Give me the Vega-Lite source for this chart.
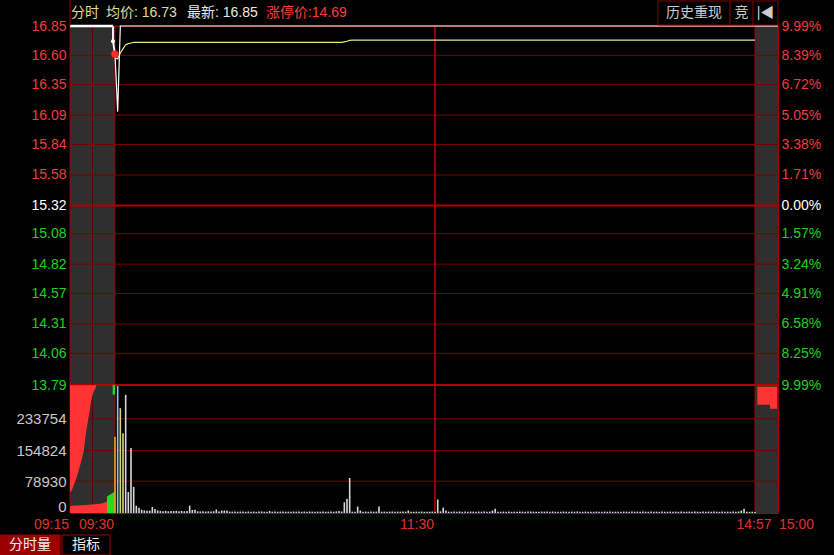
{
  "$schema": "https://vega.github.io/schema/vega-lite/v6.json",
  "width": 708,
  "height": 487,
  "autosize": {"type": "none"},
  "padding": {"left": 70, "top": 26, "right": 56, "bottom": 42},
  "background": "#000000",
  "config": {"view": {"stroke": "#a00000", "fill": "#000000"}, "font": "Liberation Sans", "scale": {"continuousPadding": 0}},
  "datasets": {
    "minutes": [
      {"t":570,"v":189000,"p":16.61,"a":16.58,"k":"a"},
      {"t":571,"v":315000,"p":16.12,"a":16.57,"k":"b"},
      {"t":572,"v":260000,"p":16.85,"a":16.62,"k":"c"},
      {"t":573,"v":198000,"p":16.85,"a":16.655,"k":"c"},
      {"t":574,"v":293000,"p":16.85,"a":16.69,"k":"d"},
      {"t":575,"v":52000,"p":16.85,"a":16.7,"k":"d"},
      {"t":576,"v":161000,"p":16.85,"a":16.705,"k":"d"},
      {"t":577,"v":64500,"p":16.85,"a":16.71,"k":"d"},
      {"t":578,"v":18100,"p":16.85,"a":16.71,"k":"d"},
      {"t":579,"v":13100,"p":16.85,"a":16.71,"k":"d"},
      {"t":580,"v":8200,"p":16.85,"a":16.71,"k":"d"},
      {"t":581,"v":6400,"p":16.85,"a":16.71,"k":"d"},
      {"t":582,"v":5700,"p":16.85,"a":16.71,"k":"d"},
      {"t":583,"v":5700,"p":16.85,"a":16.71,"k":"d"},
      {"t":584,"v":14900,"p":16.85,"a":16.71,"k":"d"},
      {"t":585,"v":9900,"p":16.85,"a":16.71,"k":"d"},
      {"t":586,"v":6400,"p":16.85,"a":16.71,"k":"d"},
      {"t":587,"v":5200,"p":16.85,"a":16.71,"k":"d"},
      {"t":588,"v":4600,"p":16.85,"a":16.71,"k":"d"},
      {"t":589,"v":5400,"p":16.85,"a":16.71,"k":"d"},
      {"t":590,"v":4300,"p":16.85,"a":16.71,"k":"d"},
      {"t":591,"v":5000,"p":16.85,"a":16.71,"k":"d"},
      {"t":592,"v":4700,"p":16.85,"a":16.71,"k":"d"},
      {"t":593,"v":5600,"p":16.85,"a":16.71,"k":"d"},
      {"t":594,"v":4400,"p":16.85,"a":16.71,"k":"d"},
      {"t":595,"v":4900,"p":16.85,"a":16.71,"k":"d"},
      {"t":596,"v":4200,"p":16.85,"a":16.71,"k":"d"},
      {"t":597,"v":5100,"p":16.85,"a":16.71,"k":"d"},
      {"t":598,"v":18100,"p":16.85,"a":16.71,"k":"d"},
      {"t":599,"v":7400,"p":16.85,"a":16.71,"k":"d"},
      {"t":600,"v":8200,"p":16.85,"a":16.71,"k":"d"},
      {"t":601,"v":4300,"p":16.85,"a":16.71,"k":"d"},
      {"t":602,"v":3900,"p":16.85,"a":16.71,"k":"d"},
      {"t":603,"v":4600,"p":16.85,"a":16.71,"k":"d"},
      {"t":604,"v":3700,"p":16.85,"a":16.71,"k":"d"},
      {"t":605,"v":4200,"p":16.85,"a":16.71,"k":"d"},
      {"t":606,"v":3600,"p":16.85,"a":16.71,"k":"d"},
      {"t":607,"v":4400,"p":16.85,"a":16.71,"k":"d"},
      {"t":608,"v":8900,"p":16.85,"a":16.71,"k":"d"},
      {"t":609,"v":3800,"p":16.85,"a":16.71,"k":"d"},
      {"t":610,"v":6200,"p":16.85,"a":16.71,"k":"d"},
      {"t":611,"v":6200,"p":16.85,"a":16.71,"k":"d"},
      {"t":612,"v":6200,"p":16.85,"a":16.71,"k":"d"},
      {"t":613,"v":3600,"p":16.85,"a":16.71,"k":"d"},
      {"t":614,"v":3400,"p":16.85,"a":16.71,"k":"d"},
      {"t":615,"v":3900,"p":16.85,"a":16.71,"k":"d"},
      {"t":616,"v":3200,"p":16.85,"a":16.71,"k":"d"},
      {"t":617,"v":3700,"p":16.85,"a":16.71,"k":"d"},
      {"t":618,"v":3500,"p":16.85,"a":16.71,"k":"d"},
      {"t":619,"v":3100,"p":16.85,"a":16.71,"k":"d"},
      {"t":620,"v":3800,"p":16.85,"a":16.71,"k":"d"},
      {"t":621,"v":3300,"p":16.85,"a":16.71,"k":"d"},
      {"t":622,"v":3600,"p":16.85,"a":16.71,"k":"d"},
      {"t":623,"v":3000,"p":16.85,"a":16.71,"k":"d"},
      {"t":624,"v":3500,"p":16.85,"a":16.71,"k":"d"},
      {"t":625,"v":3900,"p":16.85,"a":16.71,"k":"d"},
      {"t":626,"v":3200,"p":16.85,"a":16.71,"k":"d"},
      {"t":627,"v":3400,"p":16.85,"a":16.71,"k":"d"},
      {"t":628,"v":4800,"p":16.85,"a":16.71,"k":"d"},
      {"t":629,"v":3300,"p":16.85,"a":16.71,"k":"d"},
      {"t":630,"v":3600,"p":16.85,"a":16.71,"k":"d"},
      {"t":631,"v":3100,"p":16.85,"a":16.71,"k":"d"},
      {"t":632,"v":3500,"p":16.85,"a":16.71,"k":"d"},
      {"t":633,"v":3800,"p":16.85,"a":16.71,"k":"d"},
      {"t":634,"v":3200,"p":16.85,"a":16.71,"k":"d"},
      {"t":635,"v":3400,"p":16.85,"a":16.71,"k":"d"},
      {"t":636,"v":3000,"p":16.85,"a":16.71,"k":"d"},
      {"t":637,"v":3700,"p":16.85,"a":16.71,"k":"d"},
      {"t":638,"v":3300,"p":16.85,"a":16.71,"k":"d"},
      {"t":639,"v":3500,"p":16.85,"a":16.71,"k":"d"},
      {"t":640,"v":3100,"p":16.85,"a":16.71,"k":"d"},
      {"t":641,"v":3600,"p":16.85,"a":16.71,"k":"d"},
      {"t":642,"v":3200,"p":16.85,"a":16.71,"k":"d"},
      {"t":643,"v":3900,"p":16.85,"a":16.71,"k":"d"},
      {"t":644,"v":3400,"p":16.85,"a":16.71,"k":"d"},
      {"t":645,"v":3000,"p":16.85,"a":16.71,"k":"d"},
      {"t":646,"v":3500,"p":16.85,"a":16.71,"k":"d"},
      {"t":647,"v":3300,"p":16.85,"a":16.71,"k":"d"},
      {"t":648,"v":3700,"p":16.85,"a":16.71,"k":"d"},
      {"t":649,"v":3100,"p":16.85,"a":16.71,"k":"d"},
      {"t":650,"v":3400,"p":16.85,"a":16.71,"k":"d"},
      {"t":651,"v":3800,"p":16.85,"a":16.71,"k":"d"},
      {"t":652,"v":3200,"p":16.85,"a":16.71,"k":"d"},
      {"t":653,"v":4200,"p":16.85,"a":16.71,"k":"d"},
      {"t":654,"v":5200,"p":16.85,"a":16.71,"k":"d"},
      {"t":655,"v":3600,"p":16.85,"a":16.71,"k":"d"},
      {"t":656,"v":26500,"p":16.85,"a":16.715,"k":"d"},
      {"t":657,"v":35500,"p":16.85,"a":16.72,"k":"d"},
      {"t":658,"v":86800,"p":16.85,"a":16.728,"k":"d"},
      {"t":659,"v":3500,"p":16.85,"a":16.73,"k":"d"},
      {"t":660,"v":3000,"p":16.85,"a":16.73,"k":"d"},
      {"t":661,"v":15900,"p":16.85,"a":16.73,"k":"d"},
      {"t":662,"v":6200,"p":16.85,"a":16.73,"k":"d"},
      {"t":663,"v":3400,"p":16.85,"a":16.73,"k":"d"},
      {"t":664,"v":3700,"p":16.85,"a":16.73,"k":"d"},
      {"t":665,"v":3100,"p":16.85,"a":16.73,"k":"d"},
      {"t":666,"v":3500,"p":16.85,"a":16.73,"k":"d"},
      {"t":667,"v":3300,"p":16.85,"a":16.73,"k":"d"},
      {"t":668,"v":3600,"p":16.85,"a":16.73,"k":"d"},
      {"t":669,"v":15900,"p":16.85,"a":16.73,"k":"d"},
      {"t":670,"v":3200,"p":16.85,"a":16.73,"k":"d"},
      {"t":671,"v":3500,"p":16.85,"a":16.73,"k":"d"},
      {"t":672,"v":3000,"p":16.85,"a":16.73,"k":"d"},
      {"t":673,"v":3400,"p":16.85,"a":16.73,"k":"d"},
      {"t":674,"v":3800,"p":16.85,"a":16.73,"k":"d"},
      {"t":675,"v":3100,"p":16.85,"a":16.73,"k":"d"},
      {"t":676,"v":3500,"p":16.85,"a":16.73,"k":"d"},
      {"t":677,"v":3300,"p":16.85,"a":16.73,"k":"d"},
      {"t":678,"v":3600,"p":16.85,"a":16.73,"k":"d"},
      {"t":679,"v":3200,"p":16.85,"a":16.73,"k":"d"},
      {"t":680,"v":6200,"p":16.85,"a":16.73,"k":"d"},
      {"t":681,"v":3400,"p":16.85,"a":16.73,"k":"d"},
      {"t":682,"v":3100,"p":16.85,"a":16.73,"k":"d"},
      {"t":683,"v":3500,"p":16.85,"a":16.73,"k":"d"},
      {"t":684,"v":3300,"p":16.85,"a":16.73,"k":"d"},
      {"t":685,"v":3700,"p":16.85,"a":16.73,"k":"d"},
      {"t":686,"v":3000,"p":16.85,"a":16.73,"k":"d"},
      {"t":687,"v":3400,"p":16.85,"a":16.73,"k":"d"},
      {"t":688,"v":3200,"p":16.85,"a":16.73,"k":"d"},
      {"t":689,"v":3600,"p":16.85,"a":16.73,"k":"d"},
      {"t":690,"v":3300,"p":16.85,"a":16.73,"k":"d"},
      {"t":781,"v":33500,"p":16.85,"a":16.73,"k":"d"},
      {"t":782,"v":4200,"p":16.85,"a":16.73,"k":"d"},
      {"t":783,"v":13400,"p":16.85,"a":16.73,"k":"d"},
      {"t":784,"v":6200,"p":16.85,"a":16.73,"k":"d"},
      {"t":785,"v":3400,"p":16.85,"a":16.73,"k":"d"},
      {"t":786,"v":3100,"p":16.85,"a":16.73,"k":"d"},
      {"t":787,"v":3600,"p":16.85,"a":16.73,"k":"d"},
      {"t":788,"v":3300,"p":16.85,"a":16.73,"k":"d"},
      {"t":789,"v":3800,"p":16.85,"a":16.73,"k":"d"},
      {"t":790,"v":3000,"p":16.85,"a":16.73,"k":"d"},
      {"t":791,"v":3500,"p":16.85,"a":16.73,"k":"d"},
      {"t":792,"v":3200,"p":16.85,"a":16.73,"k":"d"},
      {"t":793,"v":3700,"p":16.85,"a":16.73,"k":"d"},
      {"t":794,"v":3400,"p":16.85,"a":16.73,"k":"d"},
      {"t":795,"v":3100,"p":16.85,"a":16.73,"k":"d"},
      {"t":796,"v":3600,"p":16.85,"a":16.73,"k":"d"},
      {"t":797,"v":3300,"p":16.85,"a":16.73,"k":"d"},
      {"t":798,"v":3900,"p":16.85,"a":16.73,"k":"d"},
      {"t":799,"v":3200,"p":16.85,"a":16.73,"k":"d"},
      {"t":800,"v":3500,"p":16.85,"a":16.73,"k":"d"},
      {"t":801,"v":6200,"p":16.85,"a":16.73,"k":"d"},
      {"t":802,"v":10700,"p":16.85,"a":16.73,"k":"d"},
      {"t":803,"v":3400,"p":16.85,"a":16.73,"k":"d"},
      {"t":804,"v":3100,"p":16.85,"a":16.73,"k":"d"},
      {"t":805,"v":3500,"p":16.85,"a":16.73,"k":"d"},
      {"t":806,"v":3300,"p":16.85,"a":16.73,"k":"d"},
      {"t":807,"v":3700,"p":16.85,"a":16.73,"k":"d"},
      {"t":808,"v":3000,"p":16.85,"a":16.73,"k":"d"},
      {"t":809,"v":3400,"p":16.85,"a":16.73,"k":"d"},
      {"t":810,"v":3200,"p":16.85,"a":16.73,"k":"d"},
      {"t":811,"v":3600,"p":16.85,"a":16.73,"k":"d"},
      {"t":812,"v":3300,"p":16.85,"a":16.73,"k":"d"},
      {"t":813,"v":3100,"p":16.85,"a":16.73,"k":"d"},
      {"t":814,"v":3500,"p":16.85,"a":16.73,"k":"d"},
      {"t":815,"v":3800,"p":16.85,"a":16.73,"k":"d"},
      {"t":816,"v":3200,"p":16.85,"a":16.73,"k":"d"},
      {"t":817,"v":3400,"p":16.85,"a":16.73,"k":"d"},
      {"t":818,"v":3000,"p":16.85,"a":16.73,"k":"d"},
      {"t":819,"v":3600,"p":16.85,"a":16.73,"k":"d"},
      {"t":820,"v":3300,"p":16.85,"a":16.73,"k":"d"},
      {"t":821,"v":3500,"p":16.85,"a":16.73,"k":"d"},
      {"t":822,"v":3100,"p":16.85,"a":16.73,"k":"d"},
      {"t":823,"v":3700,"p":16.85,"a":16.73,"k":"d"},
      {"t":824,"v":3200,"p":16.85,"a":16.73,"k":"d"},
      {"t":825,"v":3400,"p":16.85,"a":16.73,"k":"d"},
      {"t":826,"v":3000,"p":16.85,"a":16.73,"k":"d"},
      {"t":827,"v":3600,"p":16.85,"a":16.73,"k":"d"},
      {"t":828,"v":3300,"p":16.85,"a":16.73,"k":"d"},
      {"t":829,"v":3100,"p":16.85,"a":16.73,"k":"d"},
      {"t":830,"v":3500,"p":16.85,"a":16.73,"k":"d"},
      {"t":831,"v":3200,"p":16.85,"a":16.73,"k":"d"},
      {"t":832,"v":3800,"p":16.85,"a":16.73,"k":"d"},
      {"t":833,"v":3300,"p":16.85,"a":16.73,"k":"d"},
      {"t":834,"v":3000,"p":16.85,"a":16.73,"k":"d"},
      {"t":835,"v":3500,"p":16.85,"a":16.73,"k":"d"},
      {"t":836,"v":3200,"p":16.85,"a":16.73,"k":"d"},
      {"t":837,"v":3400,"p":16.85,"a":16.73,"k":"d"},
      {"t":838,"v":3100,"p":16.85,"a":16.73,"k":"d"},
      {"t":839,"v":3600,"p":16.85,"a":16.73,"k":"d"},
      {"t":840,"v":3300,"p":16.85,"a":16.73,"k":"d"},
      {"t":841,"v":3000,"p":16.85,"a":16.73,"k":"d"},
      {"t":842,"v":3500,"p":16.85,"a":16.73,"k":"d"},
      {"t":843,"v":3200,"p":16.85,"a":16.73,"k":"d"},
      {"t":844,"v":3700,"p":16.85,"a":16.73,"k":"d"},
      {"t":845,"v":3100,"p":16.85,"a":16.73,"k":"d"},
      {"t":846,"v":3400,"p":16.85,"a":16.73,"k":"d"},
      {"t":847,"v":3200,"p":16.85,"a":16.73,"k":"d"},
      {"t":848,"v":3000,"p":16.85,"a":16.73,"k":"d"},
      {"t":849,"v":3500,"p":16.85,"a":16.73,"k":"d"},
      {"t":850,"v":3300,"p":16.85,"a":16.73,"k":"d"},
      {"t":851,"v":3100,"p":16.85,"a":16.73,"k":"d"},
      {"t":852,"v":3600,"p":16.85,"a":16.73,"k":"d"},
      {"t":853,"v":3200,"p":16.85,"a":16.73,"k":"d"},
      {"t":854,"v":3400,"p":16.85,"a":16.73,"k":"d"},
      {"t":855,"v":3000,"p":16.85,"a":16.73,"k":"d"},
      {"t":856,"v":3500,"p":16.85,"a":16.73,"k":"d"},
      {"t":857,"v":3300,"p":16.85,"a":16.73,"k":"d"},
      {"t":858,"v":3100,"p":16.85,"a":16.73,"k":"d"},
      {"t":859,"v":3700,"p":16.85,"a":16.73,"k":"d"},
      {"t":860,"v":3200,"p":16.85,"a":16.73,"k":"d"},
      {"t":861,"v":3400,"p":16.85,"a":16.73,"k":"d"},
      {"t":862,"v":3000,"p":16.85,"a":16.73,"k":"d"},
      {"t":863,"v":3600,"p":16.85,"a":16.73,"k":"d"},
      {"t":864,"v":3300,"p":16.85,"a":16.73,"k":"d"},
      {"t":865,"v":3100,"p":16.85,"a":16.73,"k":"d"},
      {"t":866,"v":3500,"p":16.85,"a":16.73,"k":"d"},
      {"t":867,"v":3200,"p":16.85,"a":16.73,"k":"d"},
      {"t":868,"v":3400,"p":16.85,"a":16.73,"k":"d"},
      {"t":869,"v":3000,"p":16.85,"a":16.73,"k":"d"},
      {"t":870,"v":3600,"p":16.85,"a":16.73,"k":"d"},
      {"t":871,"v":3300,"p":16.85,"a":16.73,"k":"d"},
      {"t":872,"v":3100,"p":16.85,"a":16.73,"k":"d"},
      {"t":873,"v":3500,"p":16.85,"a":16.73,"k":"d"},
      {"t":874,"v":3200,"p":16.85,"a":16.73,"k":"d"},
      {"t":875,"v":3800,"p":16.85,"a":16.73,"k":"d"},
      {"t":876,"v":3300,"p":16.85,"a":16.73,"k":"d"},
      {"t":877,"v":3000,"p":16.85,"a":16.73,"k":"d"},
      {"t":878,"v":3500,"p":16.85,"a":16.73,"k":"d"},
      {"t":879,"v":3200,"p":16.85,"a":16.73,"k":"d"},
      {"t":880,"v":3400,"p":16.85,"a":16.73,"k":"d"},
      {"t":881,"v":3100,"p":16.85,"a":16.73,"k":"d"},
      {"t":882,"v":3600,"p":16.85,"a":16.73,"k":"d"},
      {"t":883,"v":3300,"p":16.85,"a":16.73,"k":"d"},
      {"t":884,"v":3000,"p":16.85,"a":16.73,"k":"d"},
      {"t":885,"v":3500,"p":16.85,"a":16.73,"k":"d"},
      {"t":886,"v":3200,"p":16.85,"a":16.73,"k":"d"},
      {"t":887,"v":3400,"p":16.85,"a":16.73,"k":"d"},
      {"t":888,"v":3100,"p":16.85,"a":16.73,"k":"d"},
      {"t":889,"v":3600,"p":16.85,"a":16.73,"k":"d"},
      {"t":890,"v":3300,"p":16.85,"a":16.73,"k":"d"},
      {"t":891,"v":3800,"p":16.85,"a":16.73,"k":"d"},
      {"t":892,"v":6200,"p":16.85,"a":16.73,"k":"d"},
      {"t":893,"v":10700,"p":16.85,"a":16.73,"k":"d"},
      {"t":894,"v":3200,"p":16.85,"a":16.73,"k":"d"},
      {"t":895,"v":2900,"p":16.85,"a":16.73,"k":"d"},
      {"t":896,"v":3400,"p":16.85,"a":16.73,"k":"d"},
      {"t":897,"v":2600,"p":16.85,"a":16.73,"k":"d"}
    ],
    "sessions": [{"t":555,"t2":570},{"t":897,"t2":900}],
    "plevels": [{"p":16.85},{"p":16.6},{"p":16.35},{"p":16.09},{"p":15.84},{"p":15.58},{"p":15.32},{"p":15.08},{"p":14.82},{"p":14.57},{"p":14.31},{"p":14.06},{"p":13.79}],
    "vlevels": [{"v":78930},{"v":154824},{"v":233754}],
    "vlines": [{"t":555,"kind":"edge"},{"t":900,"kind":"edge"},{"t":562.5,"kind":"minor"},{"t":570,"kind":"session"},{"t":897,"kind":"session"},{"t":690,"kind":"noon"}],
    "auction_vol": [
      {"t":555,"v":50000,"v2":317000,"part":"hi"},
      {"t":555.67,"v":57800,"v2":317000,"part":"hi"},
      {"t":557.33,"v":90800,"v2":317000,"part":"hi"},
      {"t":558.43,"v":119800,"v2":317000,"part":"hi"},
      {"t":559.57,"v":152800,"v2":317000,"part":"hi"},
      {"t":560.33,"v":199100,"v2":317000,"part":"hi"},
      {"t":561.23,"v":239600,"v2":317000,"part":"hi"},
      {"t":562.1,"v":281000,"v2":317000,"part":"hi"},
      {"t":562.9,"v":301600,"v2":317000,"part":"hi"},
      {"t":563.43,"v":307500,"v2":317000,"part":"hi"},
      {"t":563.8,"v":317000,"v2":317000,"part":"hi"},
      {"t":555,"v":17000,"v2":0,"part":"lo"},
      {"t":555.67,"v":17900,"v2":0,"part":"lo"},
      {"t":559,"v":19000,"v2":0,"part":"lo"},
      {"t":562.33,"v":21000,"v2":0,"part":"lo"},
      {"t":565.67,"v":23800,"v2":0,"part":"lo"},
      {"t":567.33,"v":28500,"v2":0,"part":"lo"},
      {"t":567.33,"v":41000,"v2":0,"part":"glo"},
      {"t":570,"v":53600,"v2":0,"part":"glo"},
      {"t":569.23,"v":293400,"v2":317000,"part":"ghi"},
      {"t":570,"v":293400,"v2":317000,"part":"ghi"}
    ],
    "close_vol": [{"t":897.3,"v":268600},{"t":898.96,"v":258700},{"t":899.9,"v":258700}],
    "auction_px": [
      {"t":555,"p":16.85,"seg":"open","i":0},
      {"t":569.33,"p":16.85,"seg":"open","i":1},
      {"t":569.33,"p":16.85,"seg":"link","i":2},
      {"t":569.33,"p":16.72,"seg":"link","i":3},
      {"t":570,"p":16.61,"seg":"link","i":4},
      {"t":897,"p":16.85,"seg":"close","i":5},
      {"t":900,"p":16.85,"seg":"close","i":6}
    ],
    "dots": [{"t":569.33,"p":16.72,"kind":"match"},{"t":570,"p":16.61,"kind":"open"}],
    "header": [
      {"t":555.3,"p":16.961,"text":"分时","role":"title"},
      {"t":567,"p":16.961,"text":"均价: 16.73","role":"avg"},
      {"t":597,"p":16.961,"text":"最新: 16.85","role":"last"},
      {"t":626.6,"p":16.961,"text":"涨停价:14.69","role":"limit"}
    ],
    "buttons": [
      {"t":861.5,"t2":887.9,"tm":874.7,"p":17.063,"p2":16.8585,"pm":16.958,"text":"历史重现"},
      {"t":887.9,"t2":896.3,"tm":892.1,"p":17.063,"p2":16.8585,"pm":16.958,"text":"竞"},
      {"t":896.3,"t2":900,"tm":898.37,"p":17.063,"p2":16.8585,"pm":16.958,"text":"|◀"}
    ],
    "frame": [{"t":555,"p":16.85,"p2":17.08}],
    "timelabels": [
      {"t":555,"label":"09:15","anchor":"end"},
      {"t":570,"label":"09:30","anchor":"end"},
      {"t":690,"label":"11:30","anchor":"end"},
      {"t":897,"label":"14:57","anchor":"middle"},
      {"t":900,"label":"15:00","anchor":"start"}
    ],
    "tabs": [
      {"t":531.67,"t2":551.67,"tm":541.67,"v":-54560,"v2":-104160,"vm":-79360,"text":"分时量","state":"on"},
      {"t":552.33,"t2":568.33,"tm":560.33,"v":-54560,"v2":-104160,"vm":-79360,"text":"指标","state":"off"}
    ]
  },
  "resolve": {"scale": {"y": "independent", "color": "independent", "fill": "independent", "size": "independent", "strokeWidth": "independent"}, "axis": {"y": "independent"}},
  "layer": [
    {
      "data": {"name": "sessions"},
      "mark": {"type": "rect", "color": "#2f2f2f"},
      "encoding": {
        "x": {"field": "t", "type": "quantitative", "axis": null, "scale": {"type": "linear", "domain": [555,570,690,780,897,900], "range": [0,45,365,365,685,708], "nice": false, "zero": false, "padding": 0}},
        "x2": {"field": "t2"}
      }
    },
    {
      "data": {"name": "plevels"},
      "mark": {"type": "rule"},
      "encoding": {
        "y": {"field": "p", "type": "quantitative", "scale": {"domain": [12.699, 16.85], "nice": false, "zero": false},
          "axis": {"orient": "left", "offset": 0, "title": null, "values": [16.85,16.6,16.35,16.09,15.84,15.58,15.32,15.08,14.82,14.57,14.31,14.06,13.79], "format": ".2f", "grid": false, "ticks": false, "domain": false, "labelPadding": 4, "labelFontSize": 14, "labelFont": "Liberation Sans", "labelOverlap": false, "labelBound": false,
            "labelColor": {"condition": [{"test": "datum.value > 15.33", "value": "#f03c3c"}, {"test": "datum.value < 15.31", "value": "#1ed21e"}], "value": "#ffffff"}}},
        "color": {"condition": {"test": "datum.p == 15.32 || datum.p == 13.79", "value": "#b40000"}, "value": "#780000"},
        "strokeWidth": {"condition": {"test": "datum.p == 15.32 || datum.p == 13.79", "value": 2}, "value": 1}
      }
    },
    {
      "data": {"name": "vlevels"},
      "mark": {"type": "rule", "color": "#780000", "strokeWidth": 1},
      "encoding": {
        "y": {"field": "v", "type": "quantitative", "scale": {"domain": [0, 1207760], "nice": false},
          "axis": {"orient": "left", "offset": 0, "title": null, "values": [0, 78930, 154824, 233754], "format": "d", "grid": false, "ticks": false, "domain": false, "labelPadding": 4, "labelFontSize": 15, "labelFont": "Liberation Sans", "labelColor": "#c8c8c8", "labelOverlap": false, "labelBound": false,
            "labelOffset": {"condition": {"test": "datum.value == 0", "value": -7}, "value": 0}}}
      }
    },
    {
      "data": {"name": "vlines"},
      "mark": {"type": "rule"},
      "encoding": {
        "x": {"field": "t", "type": "quantitative", "axis": null, "scale": {"type": "linear", "domain": [555,570,690,780,897,900], "range": [0,45,365,365,685,708], "nice": false, "zero": false, "padding": 0}},
        "color": {"field": "kind", "type": "nominal", "legend": null, "scale": {"domain": ["edge","minor","session","noon"], "range": ["#a00000","#5a0000","#a00000","#c00000"]}},
        "strokeWidth": {"condition": {"test": "datum.kind == 'noon'", "value": 1.5}, "value": 1}
      }
    },
    {
      "data": {"name": "auction_vol"},
      "mark": {"type": "area"},
      "encoding": {
        "x": {"field": "t", "type": "quantitative", "axis": null, "scale": {"type": "linear", "domain": [555,570,690,780,897,900], "range": [0,45,365,365,685,708], "nice": false, "zero": false, "padding": 0}},
        "y": {"field": "v", "type": "quantitative", "axis": null, "scale": {"domain": [0, 1207760], "nice": false}},
        "y2": {"field": "v2"},
        "color": {"field": "part", "type": "nominal", "legend": null, "scale": {"domain": ["hi","lo","glo","ghi"], "range": ["#ff3333","#ff3333","#22dd22","#22dd22"]}}
      }
    },
    {
      "data": {"name": "close_vol"},
      "mark": {"type": "area", "interpolate": "step-after", "color": "#ff3333"},
      "encoding": {
        "x": {"field": "t", "type": "quantitative", "axis": null, "scale": {"type": "linear", "domain": [555,570,690,780,897,900], "range": [0,45,365,365,685,708], "nice": false, "zero": false, "padding": 0}},
        "y": {"field": "v", "type": "quantitative", "axis": null, "scale": {"domain": [0, 1207760], "nice": false}},
        "y2": {"datum": 313000}
      }
    },
    {
      "data": {"name": "minutes"},
      "mark": {"type": "bar", "size": 1.6},
      "encoding": {
        "x": {"field": "t", "type": "quantitative", "axis": null, "scale": {"type": "linear", "domain": [555,570,690,780,897,900], "range": [0,45,365,365,685,708], "nice": false, "zero": false, "padding": 0}},
        "y": {"field": "v", "type": "quantitative", "axis": null, "scale": {"domain": [0, 1207760], "nice": false}},
        "color": {"field": "k", "type": "nominal", "legend": null, "scale": {"domain": ["a","b","c","d"], "range": ["#ff9a2e","#8ec8e6","#d6d67a","#d8d8d8"]}}
      }
    },
    {
      "data": {"name": "minutes"},
      "mark": {"type": "line", "color": "#e6e68c", "strokeWidth": 1.2},
      "encoding": {
        "x": {"field": "t", "type": "quantitative", "axis": null, "scale": {"type": "linear", "domain": [555,570,690,780,897,900], "range": [0,45,365,365,685,708], "nice": false, "zero": false, "padding": 0}},
        "y": {"field": "a", "type": "quantitative", "scale": {"domain": [12.699, 16.85], "nice": false, "zero": false},
          "axis": {"orient": "right", "offset": 0, "title": null, "values": [16.85,16.6,16.35,16.09,15.84,15.58,15.32,15.08,14.82,14.57,14.31,14.06,13.79], "labelExpr": "['9.99%','8.39%','6.72%','5.05%','3.38%','1.71%','0.00%','1.57%','3.24%','4.91%','6.58%','8.25%','9.99%'][indexof([16.85,16.6,16.35,16.09,15.84,15.58,15.32,15.08,14.82,14.57,14.31,14.06,13.79], datum.value)]", "grid": false, "ticks": false, "domain": false, "labelPadding": 3, "labelFontSize": 14, "labelFont": "Liberation Sans", "labelOverlap": false, "labelBound": false,
            "labelColor": {"condition": [{"test": "datum.value > 15.33", "value": "#f03c3c"}, {"test": "datum.value < 15.31", "value": "#1ed21e"}], "value": "#ffffff"}}}
      }
    },
    {
      "data": {"name": "minutes"},
      "mark": {"type": "line", "color": "#ffffff", "strokeWidth": 1.2},
      "encoding": {
        "x": {"field": "t", "type": "quantitative", "axis": null, "scale": {"type": "linear", "domain": [555,570,690,780,897,900], "range": [0,45,365,365,685,708], "nice": false, "zero": false, "padding": 0}},
        "y": {"field": "p", "type": "quantitative", "axis": null, "scale": {"domain": [12.699, 16.85], "nice": false, "zero": false}}
      }
    },
    {
      "data": {"name": "auction_px"},
      "mark": {"type": "line", "color": "#ffffff"},
      "encoding": {
        "x": {"field": "t", "type": "quantitative", "axis": null, "scale": {"type": "linear", "domain": [555,570,690,780,897,900], "range": [0,45,365,365,685,708], "nice": false, "zero": false, "padding": 0}},
        "y": {"field": "p", "type": "quantitative", "axis": null, "scale": {"domain": [12.699, 16.85], "nice": false, "zero": false}},
        "detail": {"field": "seg"},
        "order": {"field": "i"},
        "strokeWidth": {"field": "seg", "type": "nominal", "legend": null, "scale": {"domain": ["open","link","close"], "range": [2.5, 1.2, 2.5]}}
      }
    },
    {
      "data": {"name": "dots"},
      "mark": {"type": "circle", "opacity": 1},
      "encoding": {
        "x": {"field": "t", "type": "quantitative", "axis": null, "scale": {"type": "linear", "domain": [555,570,690,780,897,900], "range": [0,45,365,365,685,708], "nice": false, "zero": false, "padding": 0}},
        "y": {"field": "p", "type": "quantitative", "axis": null, "scale": {"domain": [12.699, 16.85], "nice": false, "zero": false}},
        "color": {"field": "kind", "type": "nominal", "legend": null, "scale": {"domain": ["match","open"], "range": ["#ffffff","#ff2a2a"]}},
        "size": {"field": "kind", "type": "nominal", "legend": null, "scale": {"domain": ["match","open"], "range": [16, 55]}}
      }
    },
    {
      "data": {"name": "frame"},
      "mark": {"type": "rule", "color": "#a00000"},
      "encoding": {
        "x": {"field": "t", "type": "quantitative", "axis": null, "scale": {"type": "linear", "domain": [555,570,690,780,897,900], "range": [0,45,365,365,685,708], "nice": false, "zero": false, "padding": 0}},
        "y": {"field": "p", "type": "quantitative", "axis": null, "scale": {"domain": [12.699, 16.85], "nice": false, "zero": false}},
        "y2": {"field": "p2"}
      }
    },
    {
      "data": {"name": "header"},
      "mark": {"type": "text", "align": "left", "baseline": "middle", "fontSize": 14, "font": "Liberation Sans, Noto Sans CJK SC"},
      "encoding": {
        "x": {"field": "t", "type": "quantitative", "axis": null, "scale": {"type": "linear", "domain": [555,570,690,780,897,900], "range": [0,45,365,365,685,708], "nice": false, "zero": false, "padding": 0}},
        "y": {"field": "p", "type": "quantitative", "axis": null, "scale": {"domain": [12.699, 16.85], "nice": false, "zero": false}},
        "text": {"field": "text"},
        "color": {"field": "role", "type": "nominal", "legend": null, "scale": {"domain": ["title","avg","last","limit"], "range": ["#e0dc9c","#e0dc9c","#e8e8e8","#ff3c3c"]}}
      }
    },
    {
      "data": {"name": "buttons"},
      "mark": {"type": "rect", "fill": "#000000", "stroke": "#7a0000", "strokeWidth": 1},
      "encoding": {
        "x": {"field": "t", "type": "quantitative", "axis": null, "scale": {"type": "linear", "domain": [555,570,690,780,897,900], "range": [0,45,365,365,685,708], "nice": false, "zero": false, "padding": 0}},
        "x2": {"field": "t2"},
        "y": {"field": "p", "type": "quantitative", "axis": null, "scale": {"domain": [12.699, 16.85], "nice": false, "zero": false}},
        "y2": {"field": "p2"}
      }
    },
    {
      "data": {"name": "buttons"},
      "mark": {"type": "text", "align": "center", "baseline": "middle", "fontSize": 14, "font": "Liberation Sans, Noto Sans CJK SC", "color": "#cccccc"},
      "encoding": {
        "x": {"field": "tm", "type": "quantitative", "axis": null, "scale": {"type": "linear", "domain": [555,570,690,780,897,900], "range": [0,45,365,365,685,708], "nice": false, "zero": false, "padding": 0}},
        "y": {"field": "pm", "type": "quantitative", "axis": null, "scale": {"domain": [12.699, 16.85], "nice": false, "zero": false}},
        "text": {"field": "text"}
      }
    },
    {
      "data": {"name": "timelabels"},
      "transform": [{"filter": "datum.anchor == 'end'"}],
      "mark": {"type": "text", "align": "right", "baseline": "middle", "fontSize": 14, "font": "Liberation Sans", "color": "#e03030", "dx": -1},
      "encoding": {
        "x": {"field": "t", "type": "quantitative", "axis": null, "scale": {"type": "linear", "domain": [555,570,690,780,897,900], "range": [0,45,365,365,685,708], "nice": false, "zero": false, "padding": 0}},
        "y": {"datum": -29760, "type": "quantitative", "axis": null, "scale": {"domain": [0, 1207760], "nice": false}},
        "text": {"field": "label"}
      }
    },
    {
      "data": {"name": "timelabels"},
      "transform": [{"filter": "datum.anchor == 'middle'"}],
      "mark": {"type": "text", "align": "center", "baseline": "middle", "fontSize": 14, "font": "Liberation Sans", "color": "#e03030", "dx": -1},
      "encoding": {
        "x": {"field": "t", "type": "quantitative", "axis": null, "scale": {"type": "linear", "domain": [555,570,690,780,897,900], "range": [0,45,365,365,685,708], "nice": false, "zero": false, "padding": 0}},
        "y": {"datum": -29760, "type": "quantitative", "axis": null, "scale": {"domain": [0, 1207760], "nice": false}},
        "text": {"field": "label"}
      }
    },
    {
      "data": {"name": "timelabels"},
      "transform": [{"filter": "datum.anchor == 'start'"}],
      "mark": {"type": "text", "align": "left", "baseline": "middle", "fontSize": 14, "font": "Liberation Sans", "color": "#e03030", "dx": 1},
      "encoding": {
        "x": {"field": "t", "type": "quantitative", "axis": null, "scale": {"type": "linear", "domain": [555,570,690,780,897,900], "range": [0,45,365,365,685,708], "nice": false, "zero": false, "padding": 0}},
        "y": {"datum": -29760, "type": "quantitative", "axis": null, "scale": {"domain": [0, 1207760], "nice": false}},
        "text": {"field": "label"}
      }
    },
    {
      "data": {"name": "tabs"},
      "mark": {"type": "rect", "stroke": "#a00000", "strokeWidth": 1},
      "encoding": {
        "x": {"field": "t", "type": "quantitative", "axis": null, "scale": {"type": "linear", "domain": [555,570,690,780,897,900], "range": [0,45,365,365,685,708], "nice": false, "zero": false, "padding": 0}},
        "x2": {"field": "t2"},
        "y": {"field": "v", "type": "quantitative", "axis": null, "scale": {"domain": [0, 1207760], "nice": false}},
        "y2": {"field": "v2"},
        "fill": {"field": "state", "type": "nominal", "legend": null, "scale": {"domain": ["on","off"], "range": ["#9a0000","#000000"]}}
      }
    },
    {
      "data": {"name": "tabs"},
      "mark": {"type": "text", "align": "center", "baseline": "middle", "fontSize": 14, "font": "Noto Sans CJK SC", "color": "#f0f0f0"},
      "encoding": {
        "x": {"field": "tm", "type": "quantitative", "axis": null, "scale": {"type": "linear", "domain": [555,570,690,780,897,900], "range": [0,45,365,365,685,708], "nice": false, "zero": false, "padding": 0}},
        "y": {"field": "vm", "type": "quantitative", "axis": null, "scale": {"domain": [0, 1207760], "nice": false}},
        "text": {"field": "text"}
      }
    }
  ]
}
